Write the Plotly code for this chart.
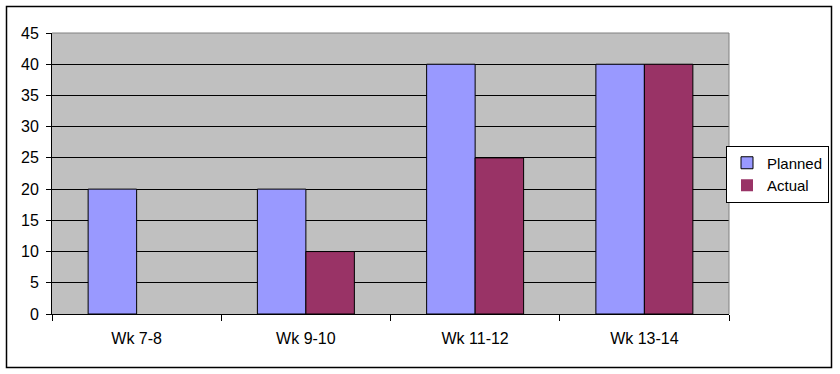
import plotly.graph_objects as go

categories = ["Wk 7-8", "Wk 9-10", "Wk 11-12", "Wk 13-14"]
planned = [20, 20, 40, 40]
actual = [0, 10, 25, 40]

L, R, T, B = 52, 729, 33, 314
W, H = 840, 374
pw, ph = R - L, B - T

def px(x):
    return (x - L) / pw

def py(y):
    return (B - y) / ph

fig = go.Figure()
fig.add_trace(go.Bar(name="Planned", x=categories, y=planned,
                     marker=dict(color="#9999FF", line=dict(color="black", width=1))))
fig.add_trace(go.Bar(name="Actual", x=categories, y=actual,
                     marker=dict(color="#993366",
                                 line=dict(color="black", width=[0 if v == 0 else 1 for v in actual]))))

fig.update_layout(
    width=W, height=H,
    margin=dict(l=L, r=W - R, t=T, b=H - B, autoexpand=False),
    paper_bgcolor="white", plot_bgcolor="#C0C0C0",
    barmode="group", bargap=0.427, bargroupgap=0,
    font=dict(family="Liberation Sans, Arial", size=16, color="black"),
    showlegend=True,
    legend=dict(x=px(829), xanchor="right", y=py(174), yanchor="middle",
                bordercolor="black", borderwidth=1, bgcolor="white",
                font=dict(size=15), tracegroupgap=0, itemwidth=30),
    xaxis=dict(type="category", showgrid=False, showline=True, linecolor="black", linewidth=1,
               ticks="outside", tickson="boundaries", ticklen=6, tickcolor="black",
               ticklabelstandoff=10, fixedrange=True, automargin=False),
    yaxis=dict(range=[0, 45], dtick=5, showgrid=True, gridcolor="black", gridwidth=1,
               showline=True, linecolor="black", linewidth=1, zeroline=False,
               ticks="outside", ticklen=5, tickcolor="black", fixedrange=True,
               automargin=False, tickfont=dict(size=16), ticklabelstandoff=4),
    shapes=[
        dict(type="line", xref="paper", yref="paper", x0=0, x1=1, y0=1, y1=1,
             line=dict(color="#808080", width=1)),
        dict(type="line", xref="paper", yref="paper", x0=1, x1=1, y0=0, y1=1,
             line=dict(color="#808080", width=1)),
        dict(type="rect", xref="paper", yref="paper", x0=px(6.5), x1=px(831.5),
             y0=py(367.5), y1=py(6.5), line=dict(color="black", width=1.5), layer="below"),
    ],
)

fig.write_html("out.html", config={"displayModeBar": False},
               post_script="document.body.style.margin='0';")
